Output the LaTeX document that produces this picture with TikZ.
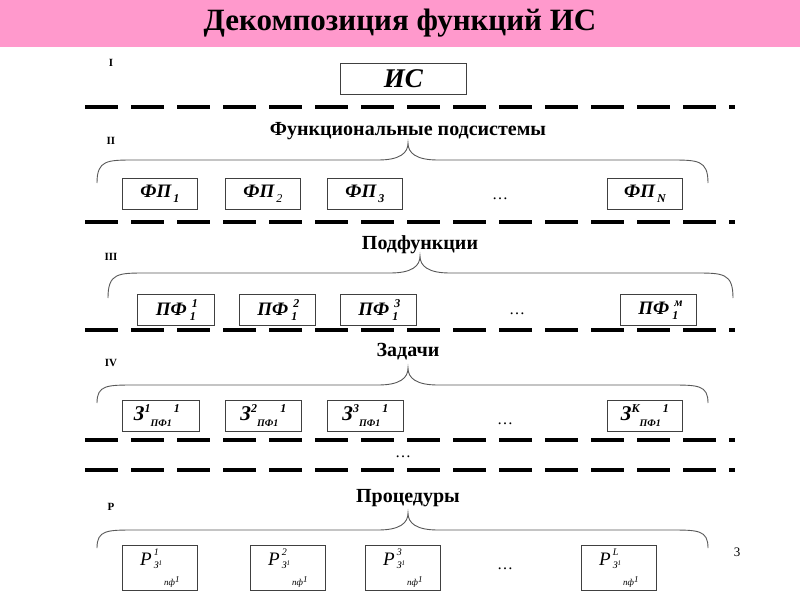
\documentclass[tikz,border=0pt]{standalone}
\usepackage{fontspec}
\setmainfont{Liberation Serif}
\definecolor{titlepink}{RGB}{255,153,204}
\newcommand\smf[1]{{\fontsize{12}{12}\selectfont #1}}
\newcommand\tnf[1]{{\fontsize{10}{10}\selectfont #1}}
\newcommand\mysub[2]{#1\raisebox{-5pt}{\smf{#2}}}
\newcommand\mysupsub[3]{#1\,\rlap{\raisebox{8pt}{\smf{\,#2}}}\raisebox{-5pt}{\smf{#3}}}
\newcommand\zed[2]{\raisebox{0pt}{З}\raisebox{8pt}{\smf{#1}}\raisebox{-6pt}{\tnf{ПФ1}}\raisebox{8pt}{\smf{\,1}}}
\newcommand\pee[1]{\raisebox{7pt}{P\kern2pt\rlap{\raisebox{10pt}{\tnf{#1}}}\raisebox{-3pt}{\tnf{З\raisebox{3pt}{\fontsize{7}{7}\selectfont 1}}}\kern2pt\raisebox{-20pt}{\fontsize{9}{9}\selectfont пф\raisebox{3pt}{1}}}}
\begin{document}
\begin{tikzpicture}[x=1pt,y=-1pt,
  dashline/.style={line width=4pt,dash pattern=on 33pt off 13pt},
  boxnode/.style={draw=black!75,line width=0.8pt,fill=white,minimum height=31pt,inner sep=0pt,anchor=north west,font=\fontsize{19}{20}\selectfont\bfseries\itshape},
  pbox/.style={draw=black!75,line width=0.8pt,fill=white,minimum width=75pt,minimum height=45pt,inner sep=0pt,anchor=north west,font=\fontsize{19}{20}\selectfont\itshape},
  lvl/.style={font=\fontsize{11}{12}\selectfont\bfseries,anchor=center},
  head/.style={font=\fontsize{20}{21}\selectfont\bfseries,anchor=center},
  dots/.style={font=\fontsize{16}{16}\selectfont,anchor=center},
  bracestyle/.style={draw=black!65,line width=0.9pt}
]
\useasboundingbox (0,0) rectangle (800,600);
\fill[white] (0,0) rectangle (800,600);
\fill[titlepink] (0,0) rectangle (800,47);
\node[anchor=center] (title) at (400,23) {\fontsize{31}{32}\selectfont\bfseries Декомпозиция функций ИС};

% level labels
\node[lvl] (l1) at (111,63) {I};
\node[lvl] (l2) at (111,141) {II};
\node[lvl] (l3) at (111,257) {III};
\node[lvl] (l4) at (111,363) {IV};
\node[lvl] (l5) at (111,507) {Р};

% dashed separators
\foreach \yy/\nm in {107/d1,222/d2,330/d3,440/d4,470/d5}{
  \coordinate (\nm a) at (85,\yy);
  \coordinate (\nm b) at (735,\yy);
  \draw[dashline] (\nm a) -- (\nm b);
}

% I
\node[boxnode,minimum width=126pt,font=\fontsize{27}{28}\selectfont\bfseries\itshape] (is) at (340,63) {ИС};

\newcommand\mybrace[5]{% left x, right x, tip x, tip y, end y
  \draw[bracestyle] (#1,#5) .. controls (#1,#4+17) and (#1+10,#4+17) .. (#1+38,#4+17)
    -- (#3-30,#4+17) .. controls (#3-8,#4+17) and (#3,#4+10) .. (#3,#4)
    .. controls (#3,#4+10) and (#3+8,#4+17) .. (#3+30,#4+17)
    -- (#2-38,#4+17) .. controls (#2-10,#4+17) and (#2,#4+17) .. (#2,#5);
}

% II
\node[head] (h2) at (408,131) {Функциональные подсистемы};
\mybrace{97}{708}{408}{143}{183}
\node[boxnode,minimum width=75pt] (fp1) at (122,178) {\mysub{ФП}{\,1}};
\node[boxnode,minimum width=75pt] (fp2) at (225,178) {\mysub{ФП}{\,\mdseries 2}};
\node[boxnode,minimum width=75pt] (fp3) at (327,178) {\mysub{ФП}{\,3}};
\node[dots] (fpd) at (500,199) {…};
\node[boxnode,minimum width=75pt] (fpn) at (607,178) {\mysub{ФП}{\,N}};

% III
\node[head] (h3) at (420,245) {Подфункции};
\mybrace{108}{733}{420}{256}{298}
\node[boxnode,minimum width=77pt] (pf1) at (137,294) {\mysupsub{ПФ}{1}{1}};
\node[boxnode,minimum width=76pt] (pf2) at (239,294) {\mysupsub{ПФ}{2}{1}};
\node[boxnode,minimum width=76pt] (pf3) at (340,294) {\mysupsub{ПФ}{3}{1}};
\node[dots] (pfd) at (517,314) {…};
\node[boxnode,minimum width=76pt] (pfm) at (620,294) {\mysupsub{ПФ}{м}{1}};

% IV
\node[head] (h4) at (408,352) {Задачи};
\mybrace{97}{708}{408}{368}{403}
\node[boxnode,minimum width=77pt,font=\fontsize{21}{22}\selectfont\bfseries\itshape] (z1) at (122,400) {\hspace{-8pt}\zed{1}{}};
\node[boxnode,minimum width=76pt,font=\fontsize{21}{22}\selectfont\bfseries\itshape] (z2) at (225,400) {\zed{2}{}};
\node[boxnode,minimum width=76pt,font=\fontsize{21}{22}\selectfont\bfseries\itshape] (z3) at (327,400) {\zed{3}{}};
\node[dots] (zd) at (505,424) {…};
\node[boxnode,minimum width=75pt,font=\fontsize{21}{22}\selectfont\bfseries\itshape] (zk) at (607,400) {\zed{К}{}};

\node[dots] (midd) at (403,457) {…};

% P
\node[head] (h5) at (408,498) {Процедуры};
\mybrace{97}{708}{408}{513}{548}
\node[pbox] (p1) at (122,545) {\pee{1}};
\node[pbox] (p2) at (250,545) {\pee{2}};
\node[pbox] (p3) at (365,545) {\pee{3}};
\node[dots] (pd) at (505,569) {…};
\node[pbox] (pl) at (581,545) {\pee{L}};

\node[font=\fontsize{13}{13}\selectfont,anchor=center] (pg) at (737,552) {3};
\end{tikzpicture}
\end{document}
